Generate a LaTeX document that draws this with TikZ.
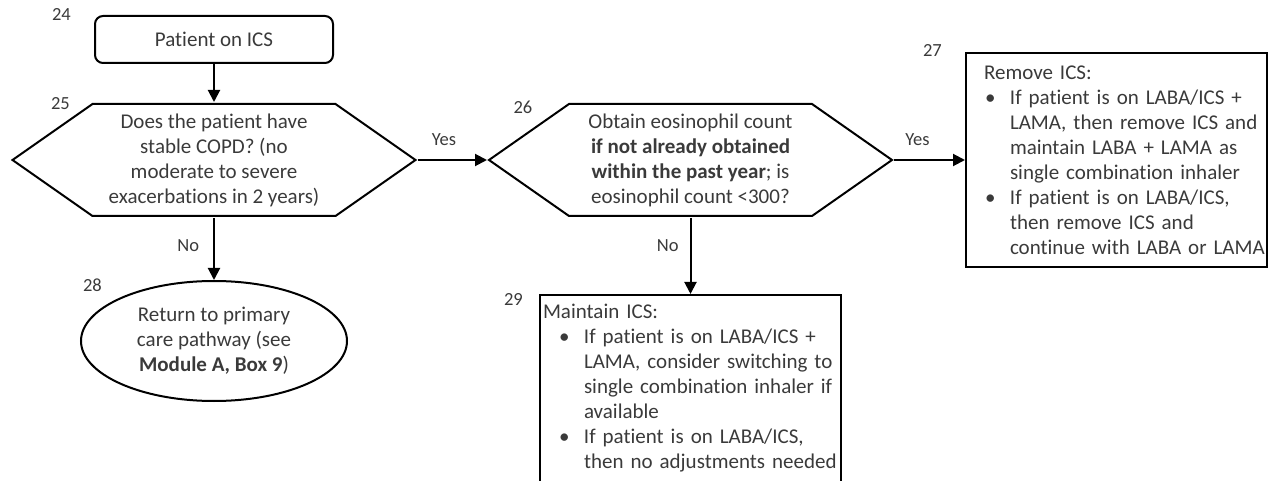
\documentclass[tikz,border=0pt]{standalone}
\usepackage{fontspec}
\setmainfont{Carlito}[Ligatures={NoCommon,NoRequired}]
\usepackage{xcolor}
\usetikzlibrary{arrows.meta, positioning, shapes.geometric}
\definecolor{cLine}{HTML}{000000}
\definecolor{cText}{HTML}{3A3A3A}
\newcommand\bul{\makebox[44pt][l]{\hspace*{19pt}\textbullet}}
\newcommand\ind{\hspace*{44pt}}

\begin{document}
\begin{tikzpicture}[
  x=1pt, y=1pt,
  font=\fontsize{21}{25}\selectfont,
  base/.style={draw=cLine, line width=2pt, text=cText, align=center, inner sep=3pt},
  entry/.style={base, rounded corners=8pt, minimum width=238pt, minimum height=47pt},
  hexbox/.style={align=center, text=cText, minimum width=407pt, minimum height=116pt,
                 inner sep=0pt, outer sep=0pt,
                 path picture={\draw[cLine, line width=2pt]
                   ([xshift=2pt]path picture bounding box.west)
                   -- ([xshift=82pt, yshift=-2pt]path picture bounding box.north west)
                   -- ([xshift=-82pt, yshift=-2pt]path picture bounding box.north east)
                   -- ([xshift=-2pt]path picture bounding box.east)
                   -- ([xshift=-82pt, yshift=2pt]path picture bounding box.south east)
                   -- ([xshift=82pt, yshift=2pt]path picture bounding box.south west)
                   -- cycle;}},
  endbox/.style={base, ellipse, minimum width=266pt, minimum height=120pt, inner sep=0pt},
  listbox/.style={base, align=left, inner xsep=0pt, text width=301pt},
  num/.style={font=\fontsize{18.5}{22}\selectfont, text=cText, inner sep=0pt},
  lbl/.style={font=\fontsize{18.5}{22}\selectfont, text=cText, inner sep=0pt},
  arr/.style={-{Triangle[length=12pt, width=12pt]}, cLine, line width=2pt}]
\useasboundingbox (0,0) rectangle (1270,-481);
\node[entry] (st) at (214,-39.5) {Patient on ICS};
\node[hexbox, below=38pt of st] (q1) {Does the patient have\\stable COPD? (no\\moderate to severe\\exacerbations in 2 years)};
\node[hexbox, right=69.5pt of q1] (q2) {Obtain eosinophil count\\\textbf{if not already obtained}\\\textbf{within the past year}; is\\eosinophil count <300?};
\node[listbox, right=71pt of q2, minimum height=214pt] (rm) {\hspace*{18pt}Remove ICS:\\
  \bul If patient is on LABA/ICS +\\
  \ind LAMA, then remove ICS and\\
  \ind maintain LABA + LAMA as\\
  \ind single combination inhaler\\
  \bul If patient is on LABA/ICS,\\
  \ind then remove ICS and\\
  \ind continue with LABA or LAMA};
\node[endbox, below=62pt of q1] (ret) {Return to primary\\care pathway (see\\\textbf{Module A, Box 9})};
\node[listbox, below=76pt of q2, minimum height=187pt] (keep) {\hspace*{3pt}Maintain ICS:\\
  \bul If patient is on LABA/ICS +\\
  \ind LAMA, consider switching to\\
  \ind single combination inhaler if\\
  \ind available\\
  \bul If patient is on LABA/ICS,\\
  \ind then no adjustments needed};
% box numbers
\node[num, left=23pt of st.north west] (n24) {24};
\node[num, left=144pt of q1.north, yshift=-2pt] (n25) {25};
\node[num, left=158pt of q2.north, yshift=-5pt] (n26) {26};
\node[num, left=23pt of rm.north west, yshift=2pt] (n27) {27};
\node[num, left=112pt of ret.north, yshift=-5pt] (n28) {28};
\node[num, left=16pt of keep.north west, yshift=-5pt] (n29) {29};
% connectors
\draw[arr] (st) -- (q1);
\draw[arr] (q1) -- node[lbl, pos=0.38, above=13pt] {Yes} (q2);
\draw[arr] (q2) -- node[lbl, pos=0.33, above=13pt] {Yes} (rm);
\draw[arr] (q1) -- node[lbl, pos=0.45, left=14pt] {No} (ret);
\draw[arr] (q2) -- node[lbl, pos=0.36, left=11pt] {No} (keep);
\end{tikzpicture}
\end{document}
